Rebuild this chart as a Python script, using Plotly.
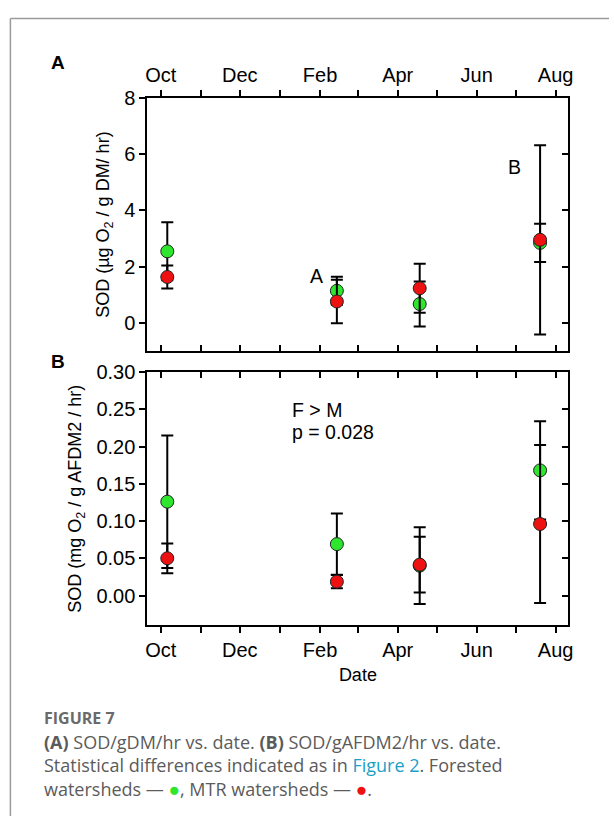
import plotly.graph_objects as go

# ---- data ----
dates = ["2011-10-06", "2012-02-14", "2012-04-18", "2012-07-20"]

a_forest = [2.55, 1.15, 0.68, 2.85]
a_forest_err = [1.03, 0.50, 0.80, 0.68]
a_mtr = [1.64, 0.77, 1.24, 2.96]
a_mtr_err = [0.41, 0.77, 0.87, 3.36]

b_forest = [0.126, 0.069, 0.040, 0.168]
b_forest_err = [0.089, 0.041, 0.0515, 0.066]
b_mtr = [0.050, 0.0186, 0.0415, 0.096]
b_mtr_err = [0.020, 0.009, 0.0375, 0.106]

x_range = ["2011-09-20 14:00", "2012-08-10 22:00"]
ya_range = [-1.0, 8.0]
yb_range = [-0.04, 0.30]

W, H = 614, 816
GREEN = "#2ee62e"
RED = "#ee1111"
FAM = "Liberation Sans, Arial, sans-serif"
TICK_FONT = dict(family=FAM, size=20, color="black")
TITLE_FONT = dict(family=FAM, size=18, color="black")
TXT_FONT = dict(family=FAM, size=19.5, color="black")
CAP_FONT = "Open Sans, Noto Sans, sans-serif"

xdom = [147 / W, 573 / W]
ya_dom = [1 - 345 / H, 1 - 88 / H]
yb_dom = [1 - 622.7 / H, 1 - 366 / H]

fig = go.Figure()


def add_series(xs, ys, errs, color, xa, ya):
    fig.add_trace(go.Scatter(
        x=xs, y=ys, mode="markers", xaxis=xa, yaxis=ya,
        marker=dict(size=13, color=color, line=dict(color="#222", width=1)),
        error_y=dict(type="data", array=errs, visible=True, color="black",
                     thickness=2, width=6),
        showlegend=False, hoverinfo="skip"))


add_series(dates, a_forest, a_forest_err, GREEN, "x", "y")
add_series(dates, a_mtr, a_mtr_err, RED, "x", "y")
add_series(dates, b_forest, b_forest_err, GREEN, "x2", "y2")
add_series(dates, b_mtr, b_mtr_err, RED, "x2", "y2")

# invisible helper traces so the mirrored (inside-tick) axes are drawn
for xa, ya, yv in [("x3", "y", a_forest), ("x", "y3", a_forest),
                   ("x4", "y2", b_forest), ("x2", "y4", b_forest)]:
    fig.add_trace(go.Scatter(x=dates[:1], y=yv[:1], xaxis=xa, yaxis=ya,
                             mode="markers", marker=dict(opacity=0),
                             showlegend=False, hoverinfo="skip"))


def minor(direction):
    return dict(dtick="M1", tick0="2011-10-01", ticklen=6, tickwidth=2,
                tickcolor="black", ticks=direction, showgrid=False)


common_x = dict(type="date", range=x_range, tick0="2011-10-01", dtick="M2",
                tickformat="%b", ticklen=6, tickwidth=2, tickcolor="black",
                showline=True, linewidth=2, linecolor="black", showgrid=False,
                zeroline=False, tickfont=TICK_FONT, fixedrange=True)
common_y = dict(ticklen=6, tickwidth=2, tickcolor="black", showline=True,
                linewidth=2, linecolor="black", showgrid=False, zeroline=False,
                tickfont=TICK_FONT, fixedrange=True)

fig.update_layout(
    width=W, height=H, margin=dict(l=0, r=0, t=0, b=0),
    paper_bgcolor="white", plot_bgcolor="white",
    # panel A
    xaxis=dict(common_x, domain=xdom, anchor="y", side="top", ticks="outside",
               minor=minor("outside")),
    xaxis3=dict(common_x, overlaying="x", anchor="y", side="bottom",
                ticks="inside", showticklabels=False, minor=minor("inside")),
    yaxis=dict(common_y, domain=ya_dom, anchor="x", side="left", ticks="outside",
               range=ya_range, tickvals=[0, 2, 4, 6, 8],
               title=dict(text="SOD (µg O<sub>2</sub> / g DM/ hr)", font=TITLE_FONT,
                          standoff=10)),
    yaxis3=dict(common_y, overlaying="y", anchor="x", side="right", ticks="inside",
                range=ya_range, tickvals=[0, 2, 4, 6, 8], showticklabels=False),
    # panel B
    xaxis2=dict(common_x, domain=xdom, anchor="y2", side="bottom", ticks="outside",
                minor=minor("outside"),
                title=dict(text="Date", font=TITLE_FONT, standoff=8)),
    xaxis4=dict(common_x, overlaying="x2", anchor="y2", side="top",
                ticks="inside", showticklabels=False, minor=minor("inside")),
    yaxis2=dict(common_y, domain=yb_dom, anchor="x2", side="left", ticks="outside",
                range=yb_range, dtick=0.05, tick0=0, tickformat=".2f",
                title=dict(text="SOD (mg O<sub>2</sub> / g AFDM2 / hr)", font=TITLE_FONT,
                           standoff=10)),
    yaxis4=dict(common_y, overlaying="y2", anchor="x2", side="right", ticks="inside",
                range=yb_range, dtick=0.05, tick0=0, showticklabels=False),
)

# in-plot labels
fig.add_annotation(x="2012-01-29", y=1.67, xref="x", yref="y", text="A",
                   showarrow=False, font=TXT_FONT)
fig.add_annotation(x="2012-06-30", y=5.55, xref="x", yref="y", text="B",
                   showarrow=False, font=TXT_FONT)
fig.add_annotation(x="2012-01-09", y=0.2497, xref="x2", yref="y2", text="F > M",
                   showarrow=False, xanchor="left", font=TXT_FONT)
fig.add_annotation(x="2012-01-09", y=0.2196, xref="x2", yref="y2", text="p = 0.028",
                   showarrow=False, xanchor="left", font=TXT_FONT)

# panel letters
BOLD = dict(family=FAM, size=19, color="black")
fig.add_annotation(x=57 / W, y=1 - 52 / H, xref="paper", yref="paper", text="<b>A</b>",
                   showarrow=False, font=BOLD, xanchor="center", yanchor="middle")
fig.add_annotation(x=57 / W, y=1 - 355 / H, xref="paper", yref="paper", text="<b>B</b>",
                   showarrow=False, font=BOLD, xanchor="center", yanchor="middle")

# caption
cap_col = "#5b5b5b"
fig.add_annotation(x=40 / W, y=1 - 717 / H, xref="paper", yref="paper",
                   text="<b>FIGURE 7</b>", showarrow=False, xanchor="left",
                   yanchor="middle",
                   font=dict(family=CAP_FONT, size=16, color="#6a6a6a"))
dot = "<span style='font-size:19px;color:{}'>●</span>"
cap_lines = [
    "<b>(A)</b> SOD/gDM/hr vs. date. <b>(B)</b> SOD/gAFDM2/hr vs. date.",
    "Statistical differences indicated as in <span style='color:#1a9fc9'>Figure 2</span>. Forested",
    "watersheds — " + dot.format(GREEN) + ", MTR watersheds — " + dot.format(RED) + ".",
]
fig.add_annotation(x=40 / W, y=1 - 765.5 / H, xref="paper", yref="paper",
                   text="<br>".join(cap_lines), showarrow=False, xanchor="left",
                   yanchor="middle", align="left",
                   font=dict(family=CAP_FONT, size=18, color=cap_col))

# frame
fig.add_shape(type="line", xref="paper", yref="paper", x0=8.5 / W, x1=8.5 / W,
              y0=0, y1=1 - 7.5 / H, line=dict(color="#9a9a9a", width=1.5))
fig.add_shape(type="line", xref="paper", yref="paper", x0=8.5 / W, x1=1,
              y0=1 - 7.5 / H, y1=1 - 7.5 / H, line=dict(color="#9a9a9a", width=1.5))

fig.write_html("out.html")
